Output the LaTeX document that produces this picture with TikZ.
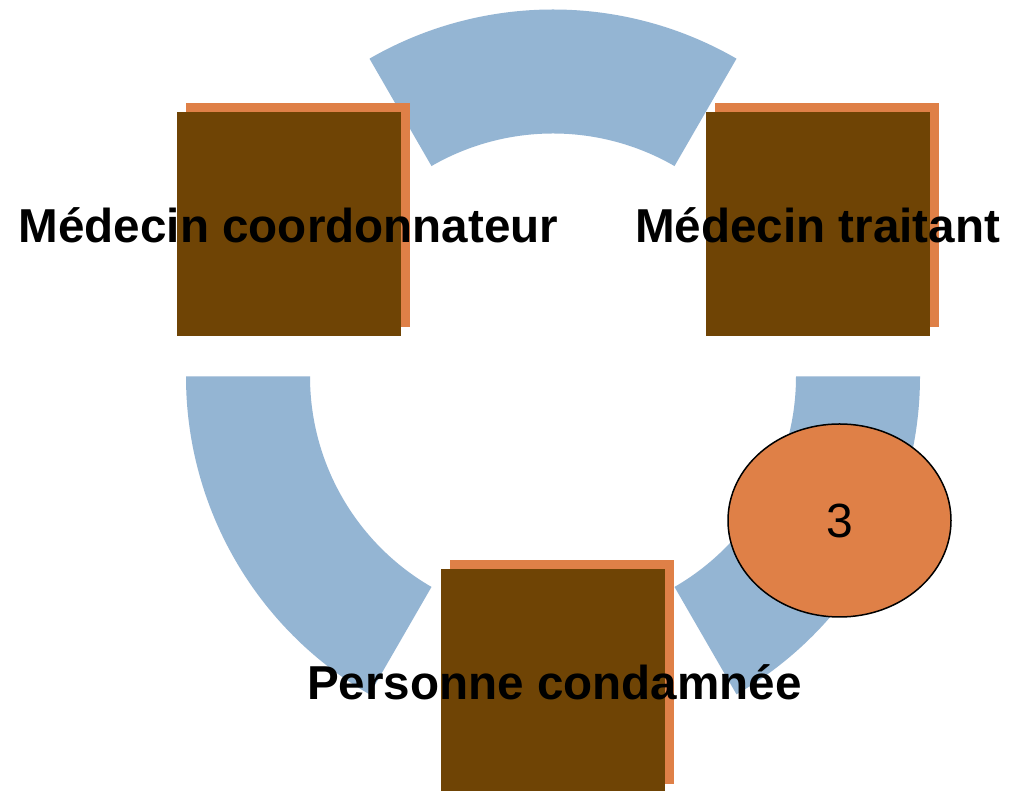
\documentclass[tikz,border=0pt]{standalone}
\usepackage{fontspec}
\setmainfont{Liberation Sans}
\usetikzlibrary{calc,shapes.geometric}
\definecolor{ringblue}{HTML}{94B5D3}
\definecolor{boxbrown}{HTML}{6F4405}
\definecolor{shadoworange}{HTML}{DF8047}
\tikzset{
  ring/.style={fill=ringblue},
  brownbox/.style={fill=boxbrown, minimum width=224pt, minimum height=224pt, inner sep=0pt, outer sep=0pt},
  shadowbox/.style={fill=shadoworange, minimum width=224pt, minimum height=224pt, inner sep=0pt, outer sep=0pt},
  label/.style={anchor=base, inner sep=0pt, font=\fontsize{47.6}{57}\selectfont\bfseries, text=black},
  badge/.style={ellipse, fill=shadoworange, draw=black, line width=1.5pt, minimum width=223pt, minimum height=193pt, inner sep=0pt, font=\fontsize{48}{58}\selectfont}
}
\begin{document}
\begin{tikzpicture}[x=1pt,y=1pt]
\clip (0,0) rectangle (1010,791);
\fill[white] (0,0) rectangle (1010,791);
\coordinate (c) at (553,414.5);
% ring segments
\fill[ring] ($(c)+(60:367pt)$) arc[start angle=60,end angle=120,radius=367pt]
  -- ($(c)+(120:243pt)$) arc[start angle=120,end angle=60,radius=243pt] -- cycle;
\fill[ring] ($(c)+(180:367pt)$) arc[start angle=180,end angle=240,radius=367pt]
  -- ($(c)+(240:243pt)$) arc[start angle=240,end angle=180,radius=243pt] -- cycle;
\fill[ring] ($(c)+(300:367pt)$) arc[start angle=300,end angle=360,radius=367pt]
  -- ($(c)+(360:243pt)$) arc[start angle=360,end angle=300,radius=243pt] -- cycle;
% boxes
\node[shadowbox] (s1) at (297.5,575.5) {};
\node[brownbox] (b1) at (289,567) {};
\node[shadowbox] (s2) at (826.5,575.5) {};
\node[brownbox] (b2) at (818,567) {};
\node[shadowbox] (s3) at (561.5,118.5) {};
\node[brownbox] (b3) at (553,110) {};
% labels
\node[label] (t1) at (288.5,548.7) {Médecin coordonnateur};
\node[label] (t2) at (817.5,548.7) {Médecin traitant};
\node[label] (t3) at (554.5,91) {Personne condamnée};
% badge
\node[badge] (n3) at (839.5,270.5) {3};
\end{tikzpicture}
\end{document}
